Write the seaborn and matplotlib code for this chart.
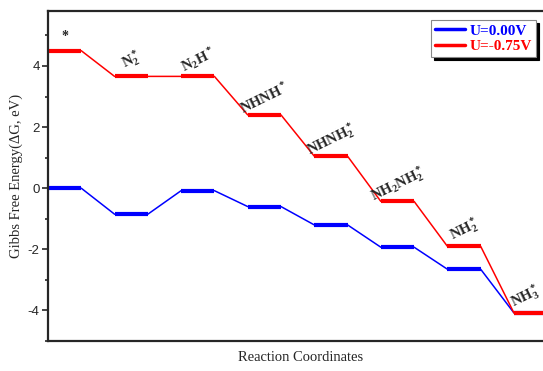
import pandas as pd
import matplotlib
matplotlib.use('Agg')
import matplotlib.pyplot as plt
import seaborn as sns
from matplotlib.lines import Line2D

# Intermediates along the reaction path
species = ['*', 'N$_2^*$', 'N$_2$H$^*$', 'NHNH$^*$', 'NHNH$_2^*$',
           'NH$_2$NH$_2^*$', 'NH$_2^*$', 'NH$_3^*$']
g_0v = [0.00, -0.85, -0.08, -0.60, -1.20, -1.93, -2.65, -4.08]
g_075v = [4.50, 3.66, 3.66, 2.40, 1.05, -0.43, -1.90, -4.08]
series = ['U=0.00V', 'U=-0.75V']
colors = {'U=0.00V': '#0000ff', 'U=-0.75V': '#ff0000'}

# long table: each level has a start and end point
rows = []
for name, vals in zip(series, [g_0v, g_075v]):
    for i, g in enumerate(vals):
        rows.append({'U': name, 'x': 2 * i, 'G': g})
        rows.append({'U': name, 'x': 2 * i + 1, 'G': g})
df = pd.DataFrame(rows)

sns.set_style('ticks')
plt.rcParams['font.family'] = ['Liberation Serif', 'DejaVu Serif']
plt.rcParams['mathtext.fontset'] = 'custom'
plt.rcParams['mathtext.rm'] = 'Liberation Serif:bold'
plt.rcParams['mathtext.it'] = 'Liberation Serif:bold'
plt.rcParams['mathtext.default'] = 'rm'
plt.rcParams['axes.unicode_minus'] = False

fig = plt.figure(figsize=(5.43, 3.71), dpi=100)
ax = fig.add_axes([48 / 543, 30 / 371, 1.02 - 48 / 543, 330 / 371])

# thin connectors
sns.lineplot(data=df, x='x', y='G', hue='U', palette=colors, sort=False,
             estimator=None, lw=1.1, legend=False, ax=ax)

# thick energy levels
for name, vals in zip(series, [g_0v, g_075v]):
    for i, g in enumerate(vals):
        ax.hlines(g, 2 * i, 2 * i + 1, color=colors[name], lw=3)

# species labels above the red levels
for i, (lab, g) in enumerate(zip(species, g_075v)):
    if i == 0:
        ax.text(2 * i + 0.5, g + 0.45, lab, ha='center', va='center',
                fontsize=10, fontweight='bold')
    else:
        xx = 2 * i + 0.5 if i < 7 else 2 * i + 0.35
        ax.text(xx, g + 0.55, lab, ha='center', va='center',
                rotation=26, fontsize=10.5, fontweight='bold')

ax.set_xlim(0, 15.2)
ax.set_ylim(-5, 5.8)
ax.set_xticks([])
ax.set_yticks([-4, -2, 0, 2, 4])
ax.set_yticks([-5, -3, -1, 1, 3, 5], minor=True)
ax.tick_params(axis='y', which='major', length=4, width=1.2, labelsize=9.5,
               pad=2)
ax.tick_params(axis='y', which='minor', length=2.5, width=1.2)
for lab in ax.get_yticklabels():
    lab.set_family('Liberation Sans')
for s in ax.spines.values():
    s.set_linewidth(1.6)
ax.set_xlabel('Reaction Coordinates', fontsize=10.5, labelpad=7)
ax.set_ylabel('Gibbs Free Energy(ΔG, eV)', fontsize=10.5)
ax.yaxis.set_label_coords(-0.05, 0.5)

handles = [Line2D([], [], color=colors[n], lw=2.5) for n in series]
leg = ax.legend(handles, series, loc='upper right',
                bbox_to_anchor=(536 / 543, 1 - 20 / 371),
                bbox_transform=fig.transFigure, borderaxespad=0,
                frameon=True, fancybox=False,
                shadow={'color': 'black', 'alpha': 1}, handlelength=2.0,
                handletextpad=0.3, borderpad=0.25, labelspacing=0.15,
                prop={'family': 'Liberation Serif', 'weight': 'bold', 'size': 11})
leg.get_frame().set_edgecolor('#888888')
leg.get_frame().set_linewidth(0.8)
for t, n in zip(leg.get_texts(), series):
    t.set_color(colors[n])

fig.savefig('out.png', dpi=100)
